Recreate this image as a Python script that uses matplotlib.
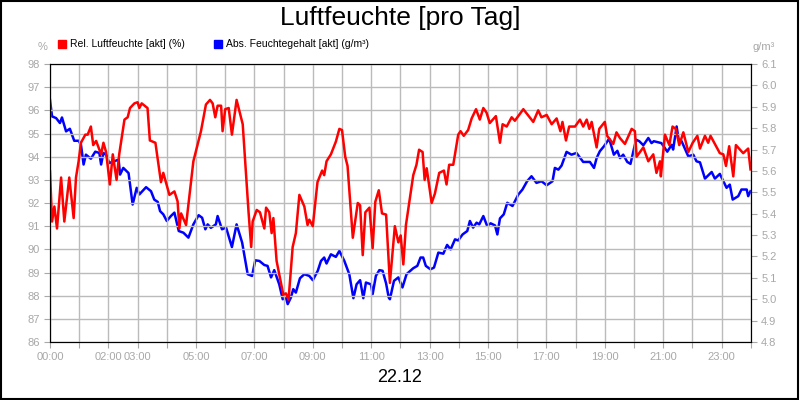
import matplotlib
matplotlib.use("Agg")
import matplotlib.pyplot as plt
from matplotlib.patches import Rectangle

plt.rcParams['font.family'] = ['Liberation Sans', 'DejaVu Sans']

# relative humidity (%) over the day, hours since 00:00
rel_hours = [0.00, 0.07, 0.15, 0.24, 0.38, 0.49, 0.66, 0.81, 0.89, 0.98, 1.06, 1.21, 1.29, 1.40, 1.48, 1.58,
             1.75, 1.83, 1.92, 2.05, 2.15, 2.28, 2.37, 2.55, 2.66, 2.74, 2.89, 3.00, 3.06, 3.14, 3.34, 3.42,
             3.61, 3.80, 3.88, 4.09, 4.26, 4.37, 4.43, 4.49, 4.66, 4.91, 5.17, 5.34, 5.48, 5.57, 5.66, 5.74,
             5.86, 5.91, 6.00, 6.12, 6.23, 6.39, 6.60, 6.80, 6.89, 6.94, 7.08, 7.19, 7.34, 7.40, 7.51, 7.59,
             7.65, 7.76, 7.99, 8.08, 8.17, 8.31, 8.42, 8.54, 8.71, 8.82, 8.88, 9.00, 9.16, 9.32, 9.39, 9.47,
             9.62, 9.79, 9.91, 10.00, 10.11, 10.19, 10.37, 10.54, 10.62, 10.71, 10.80, 10.94, 11.05, 11.14,
             11.26, 11.37, 11.51, 11.62,
             11.64, 11.81, 11.93, 12.01, 12.10, 12.19, 12.44, 12.55, 12.64, 12.76, 12.83, 12.90, 13.07, 13.18,
             13.33, 13.49, 13.58, 13.67, 13.81, 13.98, 14.06, 14.17, 14.32, 14.44, 14.59, 14.72, 14.84, 14.95,
             15.06, 15.27, 15.41, 15.50, 15.64, 15.81, 15.92, 16.21, 16.55, 16.72, 16.83, 17.01, 17.18, 17.35,
             17.48, 17.55, 17.67, 17.78, 17.98, 18.15, 18.26, 18.38, 18.47, 18.55, 18.72, 18.81, 19.00, 19.08,
             19.29, 19.40, 19.52, 19.69, 19.92, 20.03, 20.09, 20.32, 20.49, 20.66, 20.77, 20.89, 20.92, 21.06,
             21.21, 21.32, 21.43, 21.55, 21.69, 21.86, 22.01, 22.17, 22.26, 22.43, 22.54, 22.62, 22.77, 22.94,
             23.06, 23.15, 23.26, 23.40, 23.49, 23.74, 23.91, 23.99]
rel_values = [93.36, 91.2, 91.85, 90.9, 93.1, 91.2, 93.1, 91.35, 93.1, 93.8, 94.6, 94.95, 94.95, 95.3, 94.5, 94.68,
              94.1, 94.6, 94.2, 92.8, 94.1, 93.0, 94.1, 95.6, 95.7, 96.1, 96.3, 96.35, 96.1, 96.3, 96.1, 94.7,
              94.6, 92.9, 93.3, 92.35, 92.5, 92.07, 90.9, 91.55, 91.05, 93.8, 95.1, 96.25, 96.45, 96.3, 95.7, 96.2,
              96.2, 95.1, 96.05, 96.1, 94.95, 96.45, 95.4, 91.6, 90.1, 91.2, 91.7, 91.6, 90.9, 91.8, 91.6, 90.7,
              91.35, 89.5, 88.04, 88.1, 87.83, 90.1, 90.7, 92.35, 91.85, 91.05, 91.28, 91.0, 92.9, 93.4, 93.2, 93.8,
              94.1, 94.65, 95.2, 95.15, 94.0, 93.6, 90.5, 92.0, 91.9, 89.75, 91.6, 91.8, 90.05, 92.05,
              92.55, 91.55, 91.5, 88.98,
              88.55, 91.0, 90.3, 90.6, 89.35, 91.05, 93.2, 93.65, 94.3, 94.2, 93.0, 93.5, 92.0, 92.4,
              93.3, 93.4, 92.8, 93.65, 93.65, 94.95, 95.1, 94.9, 95.15, 95.65, 96.05, 95.6, 96.1, 95.9,
              95.45, 95.75, 94.6, 95.4, 95.3, 95.7, 95.55, 96.05, 95.5, 96.0, 95.7, 95.8, 95.4, 95.65,
              95.1, 95.5, 94.7, 95.3, 95.3, 95.6, 95.3, 95.6, 95.2, 95.5, 94.4, 95.2, 95.5, 94.9,
              94.55, 95.05, 94.8, 94.55, 95.2, 95.1, 94.0, 94.4, 93.8, 94.1, 93.3, 93.8, 93.15, 94.95,
              94.5, 95.3, 95.2, 94.5, 95.05, 94.2, 94.6, 94.9, 94.35, 94.9, 94.6, 94.9, 94.55, 94.15,
              94.1, 93.6, 94.45, 93.15, 94.5, 94.15, 94.35, 93.45]

# absolute humidity (g/m³)
abs_hours = [0.00, 0.07, 0.21, 0.34, 0.41, 0.55, 0.68, 0.83, 0.98, 1.06, 1.15, 1.23, 1.40, 1.55, 1.69, 1.75,
             1.83, 1.92, 2.03, 2.20, 2.35, 2.40, 2.51, 2.69, 2.83, 2.97, 3.06, 3.29, 3.46, 3.57, 3.69, 3.77,
             3.88, 4.00, 4.14, 4.26, 4.41, 4.57, 4.74, 4.91, 5.09, 5.21, 5.32, 5.40, 5.51, 5.68, 5.74, 5.89,
             6.03, 6.23, 6.39, 6.58, 6.77, 6.92, 7.03, 7.17, 7.34, 7.45, 7.57, 7.68, 7.85, 7.97, 8.08, 8.14,
             8.25, 8.33, 8.42, 8.56, 8.71, 8.88, 9.00, 9.17, 9.28, 9.39, 9.47, 9.62, 9.79, 9.91, 10.08, 10.25,
             10.39, 10.50, 10.62, 10.73, 10.82, 10.99, 11.05, 11.16, 11.28, 11.39, 11.51, 11.60,
             11.64, 11.78, 11.93, 12.07, 12.21, 12.44, 12.58, 12.69, 12.78, 12.87, 13.03, 13.15, 13.30, 13.47,
             13.60, 13.72, 13.87, 13.98, 14.13, 14.29, 14.38, 14.49, 14.61, 14.70, 14.84, 14.97, 15.09, 15.24,
             15.32, 15.41, 15.54, 15.66, 15.84, 16.04, 16.18, 16.34, 16.49, 16.66, 16.83, 17.01, 17.21, 17.29,
             17.41, 17.52, 17.69, 17.86, 18.03, 18.26, 18.49, 18.63, 18.72, 18.83, 18.97, 19.15, 19.31, 19.43,
             19.52, 19.63, 19.77, 19.88, 20.07, 20.18, 20.32, 20.49, 20.60, 20.68, 20.94, 21.14, 21.29, 21.34,
             21.46, 21.53, 21.63, 21.86, 22.03, 22.14, 22.26, 22.43, 22.66, 22.77, 22.94, 23.06, 23.17, 23.28,
             23.38, 23.57, 23.68, 23.86, 23.91, 23.99]
abs_values = [5.932, 5.855, 5.847, 5.824, 5.85, 5.785, 5.797, 5.741, 5.741, 5.723, 5.63, 5.676, 5.657, 5.69, 5.684, 5.63,
              5.684, 5.676, 5.637, 5.645, 5.653, 5.583, 5.614, 5.59, 5.443, 5.521, 5.49, 5.524, 5.505, 5.466, 5.455, 5.412,
              5.397, 5.366, 5.389, 5.405, 5.319, 5.311, 5.288, 5.35, 5.393, 5.381, 5.327, 5.35, 5.334, 5.35, 5.389, 5.327,
              5.335, 5.244, 5.35, 5.265, 5.117, 5.109, 5.182, 5.179, 5.16, 5.156, 5.102, 5.136, 5.07, 5.0, 5.008, 4.977,
              5.008, 5.047, 5.031, 5.098, 5.117, 5.109, 5.089, 5.133, 5.179, 5.195, 5.167, 5.21, 5.198, 5.226, 5.179, 5.117,
              5.005, 5.07, 5.089, 5.005, 5.078, 5.07, 5.024, 5.109, 5.136, 5.133, 5.074, 5.008,
              5.0, 5.086, 5.102, 5.055, 5.117, 5.145, 5.156, 5.195, 5.195, 5.156, 5.14, 5.148, 5.218, 5.213,
              5.254, 5.233, 5.28, 5.275, 5.303, 5.319, 5.366, 5.335, 5.358, 5.35, 5.389, 5.343, 5.355, 5.345,
              5.303, 5.378, 5.397, 5.451, 5.436, 5.49, 5.513, 5.552, 5.575, 5.544, 5.552, 5.533, 5.552, 5.614,
              5.606, 5.625, 5.689, 5.676, 5.684, 5.642, 5.642, 5.614, 5.66, 5.692, 5.715, 5.751, 5.676, 5.694,
              5.66, 5.676, 5.642, 5.633, 5.746, 5.739, 5.72, 5.754, 5.73, 5.739, 5.73, 5.69, 5.722, 5.70,
              5.808, 5.746, 5.739, 5.668, 5.676, 5.645, 5.64, 5.564, 5.595, 5.564, 5.586, 5.552, 5.521, 5.536,
              5.466, 5.482, 5.513, 5.513, 5.482, 5.505]

tick_hours = list(range(25))
label_hours = [0, 2, 3, 5, 7, 9, 11, 13, 15, 17, 19, 21, 23]
left_ticks = list(range(86, 99))
right_ticks = [4.8 + 0.1 * i for i in range(14)]

GRAY = "#a8a8a8"

fig = plt.figure(figsize=(8, 4), dpi=100)
fig.patch.set_facecolor("white")
ax = fig.add_axes([0.0625, 0.145, 0.876, 0.695])
ax2 = ax.twinx()

ax.plot(rel_hours, rel_values, color="#ff0000", lw=1.8)
ax2.plot(abs_hours, abs_values, color="#0000ff", lw=1.8)
ax.set_zorder(ax2.get_zorder() + 1)
ax.patch.set_visible(False)

ax.set_xlim(0, 24)
ax.set_ylim(86, 98)
ax2.set_ylim(4.8, 6.1)
ax.set_xticks(tick_hours)
ax.set_xticklabels([f"{h:02d}:00" if h in label_hours else "" for h in tick_hours])
ax.set_yticks(left_ticks)
ax2.set_yticks(right_ticks)
ax2.set_yticklabels([f"{v:.1f}" for v in right_ticks])
ax.grid(True, color="#bbbbbb", lw=1)
for a in (ax, ax2):
    a.tick_params(colors=GRAY, labelsize=8, length=4, labelcolor=GRAY)
    for s in a.spines.values():
        s.set_color("black")

fig.text(0.5, 0.955, "Luftfeuchte [pro Tag]", ha="center", va="center", fontsize=19)
fig.text(0.5, 0.055, "22.12", ha="center", va="center", fontsize=13)
fig.text(0.053, 0.882, "%", ha="center", va="center", fontsize=8, color=GRAY)
fig.text(0.955, 0.882, "g/m³", ha="center", va="center", fontsize=8, color=GRAY)

fig.patches.append(Rectangle((0.0725, 0.88), 0.01, 0.02, transform=fig.transFigure, color="#ff0000"))
fig.text(0.087, 0.89, "Rel. Luftfeuchte [akt] (%)", va="center", fontsize=7.5)
fig.patches.append(Rectangle((0.2675, 0.88), 0.01, 0.02, transform=fig.transFigure, color="#0000ff"))
fig.text(0.282, 0.89, "Abs. Feuchtegehalt [akt] (g/m³)", va="center", fontsize=7.5)

fig.patches.append(Rectangle((0.001, 0.002), 0.997, 0.996, transform=fig.transFigure,
                             fill=False, edgecolor="black", lw=1.5))

fig.savefig("out.png", dpi=100)
